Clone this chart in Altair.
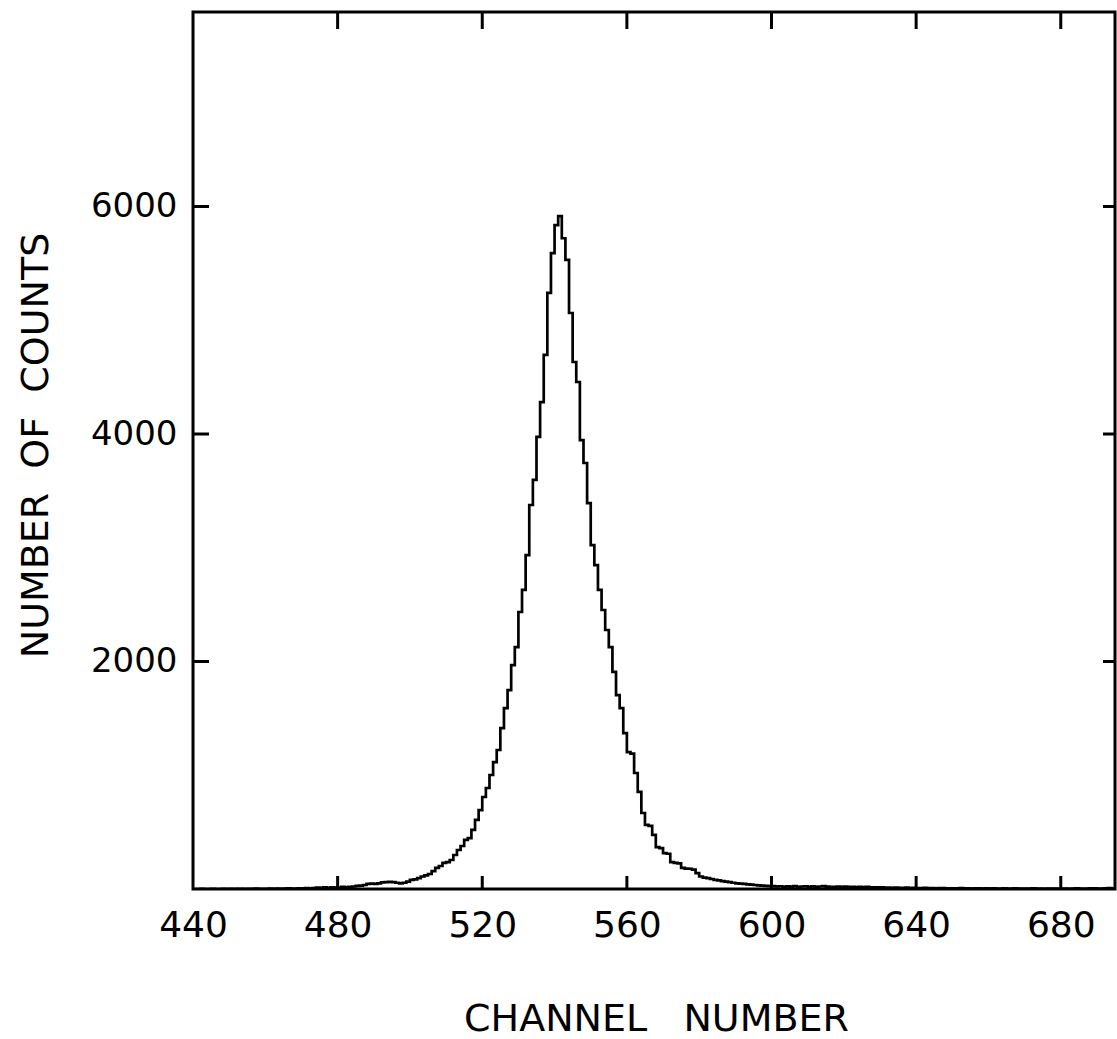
import altair as alt
import pandas as pd

# ---- data ----
channels = list(range(440, 695))
counts = [
    # 440-449
    0, 0, 1, 0, 0, 1, 0, 0, 1, 0,
    # 450-459
    1, 0, 2, 1, 0, 2, 1, 3, 1, 2,
    # 460-469
    2, 3, 1, 4, 2, 3, 5, 3, 4, 6,
    # 470-479
    5, 7, 6, 9, 12, 10, 14, 11, 15, 13,
    # 480-489
    12, 18, 15, 20, 22, 28, 30, 35, 45, 48,
    # 490-499
    45, 50, 58, 60, 62, 60, 55, 50, 55, 65,
    # 500-509
    80, 85, 95, 110, 120, 132, 158, 185, 202, 229,
    # 510-519
    237, 255, 299, 343, 378, 431, 448, 519, 607, 694,
    # 520-529
    809, 888, 1002, 1116, 1222, 1415, 1591, 1749, 1969, 2127,
    # 530-539
    2435, 2629, 2936, 3376, 3596, 3974, 4281, 4695, 5240, 5591,
    # 540-549
    5837, 5916, 5721, 5530, 5064, 4633, 4457, 3947, 3745, 3393,
    # 550-559
    3024, 2848, 2629, 2453, 2277, 2127, 1908, 1705, 1591, 1371,
    # 560-569
    1204, 1190, 1020, 853, 668, 563, 555, 475, 369, 360,
    # 570-579
    316, 310, 237, 230, 225, 185, 180, 178, 170, 140,
    # 580-589
    110, 100, 95, 88, 80, 75, 70, 65, 60, 55,
    # 590-599
    50, 48, 45, 40, 38, 35, 32, 30, 28, 26,
    # 600-609
    25, 22, 24, 20, 23, 21, 25, 20, 22, 24,
    # 610-619
    20, 23, 19, 22, 25, 21, 20, 18, 22, 19,
    # 620-629
    21, 18, 20, 17, 19, 16, 18, 15, 14, 15,
    # 630-639
    14, 12, 13, 11, 12, 10, 11, 12, 9, 10,
    # 640-649
    9, 8, 10, 7, 8, 6, 7, 8, 6, 5,
    # 650-659
    6, 5, 7, 5, 6, 4, 5, 6, 4, 5,
    # 660-669
    4, 5, 3, 4, 6, 4, 3, 5, 4, 3,
    # 670-679
    4, 3, 5, 3, 4, 2, 3, 4, 3, 2,
    # 680-689
    3, 4, 2, 3, 5, 3, 2, 4, 6, 5,
    # 690-694
    4, 3, 5, 8, 4,
]
x_ticks = [440, 480, 520, 560, 600, 640, 680]
y_ticks = [2000, 4000, 6000]
x_title = "CHANNEL\u00a0\u00a0\u00a0NUMBER"
y_title = "NUMBER\u00a0\u00a0OF\u00a0\u00a0COUNTS"

# close the last step at the right edge of the last channel
df = pd.DataFrame({
    "channel": channels + [channels[-1] + 1],
    "counts": counts + [counts[-1]],
})

W, H = 922, 877
FONT = "DejaVu Sans"

x_scale = alt.Scale(domain=[440, 695], nice=False, zero=False)
y_scale = alt.Scale(domain=[0, 7710], nice=False, zero=False)

x_axis = alt.Axis(
    values=x_ticks, title=x_title, format="d",
    labelFontSize=36, labelPadding=19, labelFont=FONT, labelFlush=False,
    labelOverlap=False,
    titleFont=FONT, titleFontSize=38, titleFontWeight="normal",
    titleX=463, titleY=141, titleBaseline="alphabetic", titleAlign="center",
)
y_axis = alt.Axis(
    values=y_ticks, title=y_title, format="d",
    labelFontSize=34, labelPadding=16, labelFont=FONT, labelFlush=False,
    labelOverlap=False,
    titleFont=FONT, titleFontSize=38, titleFontWeight="normal",
    titleX=-157, titleY=433, titleAngle=270,
    titleBaseline="middle", titleAlign="center",
)

line = alt.Chart(df).mark_line(
    interpolate="step-after", color="black", strokeWidth=2.7, clip=True
).encode(
    x=alt.X("channel:Q", scale=x_scale, axis=x_axis),
    y=alt.Y("counts:Q", scale=y_scale, axis=y_axis),
)

xt = pd.DataFrame({"channel": x_ticks[1:]})
yt = pd.DataFrame({"counts": y_ticks})

bottom_ticks = alt.Chart(xt).mark_rule(color="black", strokeWidth=3).encode(
    x=alt.X("channel:Q", scale=x_scale, axis=x_axis), y=alt.value(H), y2=alt.value(H - 13)
)
top_ticks = alt.Chart(xt).mark_rule(color="black", strokeWidth=3).encode(
    x=alt.X("channel:Q", scale=x_scale, axis=x_axis), y=alt.value(0), y2=alt.value(17)
)
left_ticks = alt.Chart(yt).mark_rule(color="black", strokeWidth=3).encode(
    y=alt.Y("counts:Q", scale=y_scale, axis=y_axis), x=alt.value(0), x2=alt.value(16)
)
right_ticks = alt.Chart(yt).mark_rule(color="black", strokeWidth=3).encode(
    y=alt.Y("counts:Q", scale=y_scale, axis=y_axis), x=alt.value(W), x2=alt.value(W - 12)
)

chart = alt.layer(line, bottom_ticks, top_ticks, left_ticks, right_ticks).properties(
    width=W, height=H,
    autosize=alt.AutoSizeParams(type="none"),
    padding={"left": 193, "top": 12, "right": 2, "bottom": 150},
    background="white",
).configure_view(
    stroke="black", strokeWidth=3
).configure_axis(
    domain=False, ticks=False, grid=False, labelColor="black", titleColor="black"
)

chart.save("out.html", embed_options={"renderer": "svg", "actions": False})
